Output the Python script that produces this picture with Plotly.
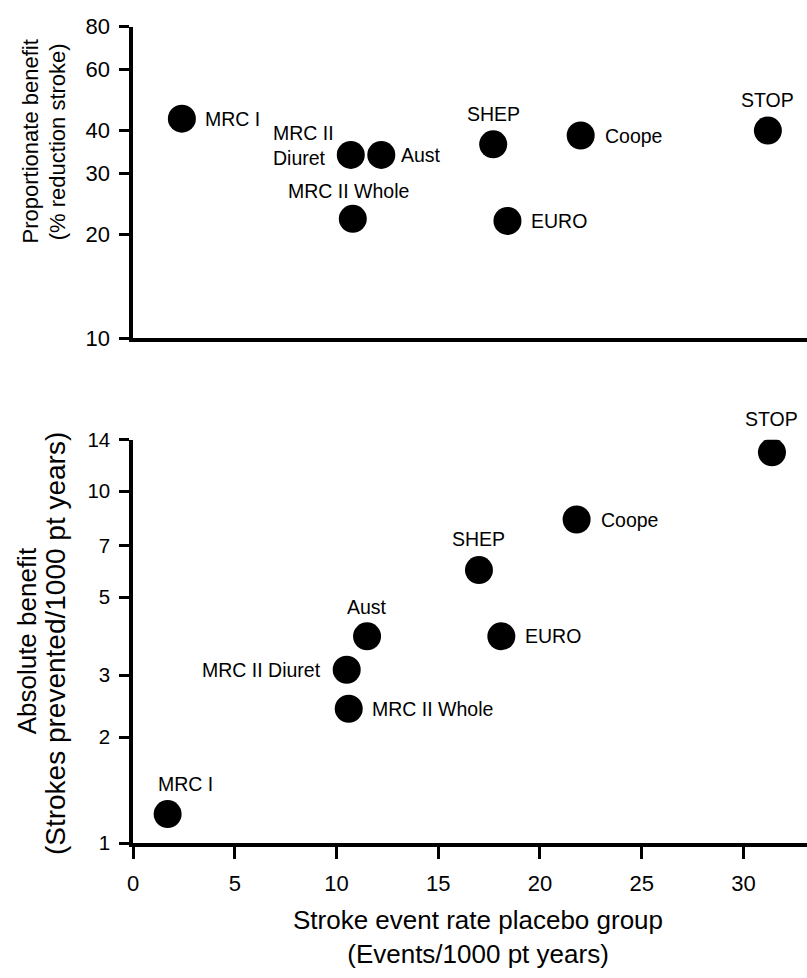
import numpy as np
import plotly.graph_objects as go

# ---------------- data ----------------
trials = ["MRC I", "MRC II Diuret", "Aust", "MRC II Whole", "SHEP", "Coope", "STOP", "EURO"]

# top panel: proportionate benefit (% reduction stroke)
event_rate_top = [2.4, 10.7, 12.2, 10.8, 17.7, 22.0, 31.2, 18.4]
prop_benefit = [43.3, 34.0, 34.0, 22.2, 36.5, 38.7, 40.0, 21.9]

# bottom panel: absolute benefit (strokes prevented / 1000 pt years)
event_rate_bottom = [1.7, 10.5, 11.5, 10.6, 17.0, 21.8, 31.4, 18.1]
abs_benefit = [1.21, 3.11, 3.87, 2.41, 5.97, 8.31, 12.9, 3.87]

x_ticks = [0, 5, 10, 15, 20, 25, 30]
top_y_ticks = [10, 20, 30, 40, 60, 80]
bottom_y_ticks = [1, 2, 3, 5, 7, 10, 14]

# ---------------- label placement (style) ----------------
top_labels = {
    "MRC I": ("MRC I", "right", 21, 0),
    "MRC II Diuret": ("MRC II<br>Diuret", "left", -15, 9),
    "Aust": ("Aust", "right", 18, 0),
    "MRC II Whole": ("MRC II Whole", "above", -4, 28),
    "SHEP": ("SHEP", "above", 0, 30),
    "Coope": ("Coope", "right", 22, 0),
    "STOP": ("STOP", "above", 0, 31),
    "EURO": ("EURO", "right", 22, 0),
}
bottom_labels = {
    "MRC I": ("MRC I", "above", 18, 30),
    "MRC II Diuret": ("MRC II Diuret", "left", -24, 0),
    "Aust": ("Aust", "above", 0, 29),
    "MRC II Whole": ("MRC II Whole", "right", 21, 0),
    "SHEP": ("SHEP", "above", 0, 31),
    "Coope": ("Coope", "right", 22, 0),
    "STOP": ("STOP", "above", 0, 33),
    "EURO": ("EURO", "right", 22, 0),
}

W, H = 807, 978
FAMILY = "Liberation Sans, Arial, Helvetica, sans-serif"
LABEL_FONT = dict(family=FAMILY, size=19.5, color="black")

fig = go.Figure()

marker = dict(size=28, color="black", line=dict(width=0))
fig.add_trace(go.Scatter(x=event_rate_top, y=prop_benefit, mode="markers",
                         marker=marker, xaxis="x2", yaxis="y2", showlegend=False,
                         hoverinfo="skip"))
fig.add_trace(go.Scatter(x=event_rate_bottom, y=abs_benefit, mode="markers",
                         marker=marker, xaxis="x", yaxis="y", showlegend=False,
                         hoverinfo="skip"))

annotations = []


def add_labels(xs, ys, spec, xref, yref):
    for name, xv, yv in zip(trials, xs, ys):
        text, kind, dx, dy = spec[name]
        a = dict(x=xv, y=np.log10(yv), xref=xref, yref=yref, text=text,
                 showarrow=False, font=LABEL_FONT, xshift=dx, yshift=dy,
                 yanchor="middle")
        if kind == "right":
            a.update(xanchor="left", align="left")
        elif kind == "left":
            a.update(xanchor="right", align="left")
        else:
            a.update(xanchor="center", align="center")
        annotations.append(a)


add_labels(event_rate_top, prop_benefit, top_labels, "x2", "y2")
add_labels(event_rate_bottom, abs_benefit, bottom_labels, "x", "y")


def title(text, px, py, size, angle):
    annotations.append(dict(text=text, x=px / W, y=1 - py / H, xref="paper", yref="paper",
                            showarrow=False, textangle=angle, xanchor="center",
                            yanchor="middle", align="center",
                            font=dict(family=FAMILY, size=size, color="black")))


title("Proportionate benefit", 25, 133, 22, -90)
title("(% reduction stroke)", 52, 133, 22, -90)
title("Absolute benefit", 21, 645, 26, -90)
title("(Strokes prevented/1000 pt years)", 50, 648, 28, -90)
title("Stroke event rate placebo group<br>(Events/1000 pt years)", 476, 949, 26, 0)

x_left = 128 / W
x_range = [0, (W - 128) / 20.5]

axis_common = dict(showline=True, linecolor="black", linewidth=3.5, showgrid=False,
                   zeroline=False, mirror=False)

fig.update_layout(
    width=W, height=H,
    margin=dict(l=0, r=0, t=0, b=0),
    paper_bgcolor="white", plot_bgcolor="white",
    font=dict(family=FAMILY, color="black"),
    showlegend=False,
    annotations=annotations,
    xaxis=dict(domain=[x_left, 1], range=x_range, anchor="y", tickmode="array",
               tickvals=x_ticks, ticktext=[str(v) for v in x_ticks], ticks="outside",
               ticklen=12, tickwidth=3, tickcolor="black", ticklabelstandoff=6,
               tickfont=dict(family=FAMILY, size=22, color="black"), **axis_common),
    yaxis=dict(domain=[1 - 853 / H, 1 - 439 / H], type="log", range=[0, np.log10(14)],
               anchor="x", tickmode="array", tickvals=bottom_y_ticks,
               ticktext=[str(v) for v in bottom_y_ticks], ticks="outside", ticklen=10,
               tickwidth=3, tickcolor="black", ticklabelstandoff=5,
               tickfont=dict(family=FAMILY, size=20.5, color="black"), **axis_common),
    xaxis2=dict(domain=[x_left, 1], range=x_range, anchor="y2", showticklabels=False,
                ticks="", **axis_common),
    yaxis2=dict(domain=[1 - 335 / H, 1 - 15 / H], type="log", range=[1, np.log10(80)],
                anchor="x2", tickmode="array", tickvals=top_y_ticks,
                ticktext=[str(v) for v in top_y_ticks], ticks="outside", ticklen=10,
                tickwidth=3, tickcolor="black", ticklabelstandoff=5,
                tickfont=dict(family=FAMILY, size=22, color="black"), **axis_common),
)

fig.write_html("out.html", config={"displayModeBar": False},
               post_script="document.body.style.margin='0';")
